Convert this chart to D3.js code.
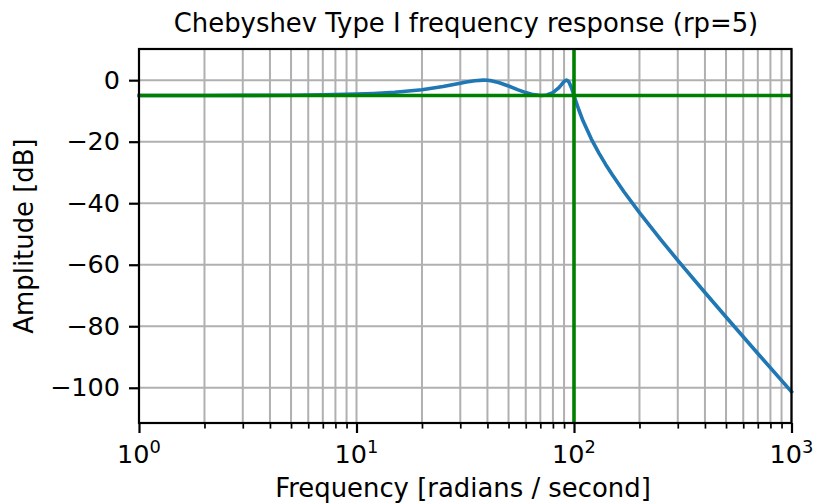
<!DOCTYPE html>
<html>
<head>
<meta charset="utf-8">
<script src="https://cdn.jsdelivr.net/npm/d3@7"></script>
<style>
  html, body { margin: 0; padding: 0; background: #fff; }
  svg { display: block; font-family: "DejaVu Sans", sans-serif; }
</style>
</head>
<body>
<svg id="chart" width="814" height="504"></svg>
<script>
// Frequency response of a 4th-order analog Chebyshev I low-pass (rp = 5 dB, wc = 100 rad/s)
const freq = [1, 2, 3, 5, 7, 10, 12, 15, 20, 25, 30, 32, 35, 38.3, 40, 42, 45, 50, 55, 60, 65, 70.7,
              75, 80, 85, 87, 89, 91, 92.4, 93.5, 95, 97, 98, 99, 100, 102, 105, 110, 120, 130,
              140, 150, 170, 200, 250, 300, 400, 500, 700, 1000];
const amplitudeDb = [-5.00, -4.98, -4.96, -4.88, -4.77, -4.52, -4.31, -3.92, -3.09, -2.07, -0.99, -0.61,
                     -0.18, 0.00, -0.05, -0.24, -0.74, -1.88, -3.06, -4.04, -4.71, -5.00,
                     -4.81, -4.04, -2.53, -1.71, -0.86, -0.18, 0.00, -0.14, -0.75, -2.22, -3.11, -4.05,
                     -5.00, -6.87, -9.46, -13.20, -19.07, -23.65, -27.47, -30.77, -36.36, -43.08,
                     -51.77, -58.57, -69.02, -76.98, -88.84, -101.32];
const xMajorTicks = [1, 10, 100, 1000];
const xTickExponents = ["0", "1", "2", "3"];
const yTicks = [0, -20, -40, -60, -80, -100];
const cutoffFreq = 100;
const rippleDb = -5;
const titleText = "Chebyshev Type I frequency response (rp=5)";
const xLabelText = "Frequency [radians / second]";
const yLabelText = "Amplitude [dB]";

const TICK_FONT = 25.5;
const LABEL_FONT = 25.9;
const svg = d3.select("#chart");
const plot = { left: 139, right: 791.5, top: 49, bottom: 423 };

const x = d3.scaleLog().domain([1, 1000]).range([plot.left, plot.right]);
const yMin = d3.min(amplitudeDb), yMax = d3.max(amplitudeDb);
const pad = (yMax - yMin) * 0.1;
const y = d3.scaleLinear().domain([yMin - pad, yMax + pad]).range([plot.bottom, plot.top]);

const minorTicks = [];
for (let d = 1; d < 1000; d *= 10) for (let k = 2; k <= 9; k++) minorTicks.push(d * k);

const gridColor = "#b0b0b0";
const grid = svg.append("g");
// vertical grid lines, major and minor
grid.selectAll("line.vx").data(xMajorTicks.concat(minorTicks)).join("line")
  .attr("x1", d => x(d)).attr("x2", d => x(d))
  .attr("y1", plot.top).attr("y2", plot.bottom)
  .attr("stroke", gridColor).attr("stroke-width", 2);
// horizontal grid lines
grid.selectAll("line.hy").data(yTicks).join("line")
  .attr("x1", plot.left).attr("x2", plot.right)
  .attr("y1", d => y(d)).attr("y2", d => y(d))
  .attr("stroke", gridColor).attr("stroke-width", 2);

// response curve
const line = d3.line().x((d, i) => x(freq[i])).y(d => y(d));
svg.append("path")
  .datum(amplitudeDb)
  .attr("d", line)
  .attr("fill", "none")
  .attr("stroke", "#1f77b4")
  .attr("stroke-width", 3.6)
  .attr("stroke-linejoin", "round")
  .attr("stroke-linecap", "square");

// cutoff and ripple reference lines
svg.append("line")
  .attr("x1", x(cutoffFreq)).attr("x2", x(cutoffFreq))
  .attr("y1", plot.top).attr("y2", plot.bottom)
  .attr("stroke", "green").attr("stroke-width", 3.6);
svg.append("line")
  .attr("x1", plot.left).attr("x2", plot.right)
  .attr("y1", y(rippleDb)).attr("y2", y(rippleDb))
  .attr("stroke", "green").attr("stroke-width", 3.6);

// axes frame
svg.append("rect")
  .attr("x", plot.left).attr("y", plot.top)
  .attr("width", plot.right - plot.left).attr("height", plot.bottom - plot.top)
  .attr("fill", "none").attr("stroke", "#000").attr("stroke-width", 2.2);

// x axis: major ticks with power-of-ten labels, unlabeled minor ticks
const xAxis = d3.axisBottom(x).tickValues(xMajorTicks).tickSize(10).tickFormat("");
const gx = svg.append("g").attr("transform", `translate(0,${plot.bottom})`).call(xAxis);
gx.select(".domain").remove();
gx.selectAll(".tick line").attr("stroke", "#000").attr("stroke-width", 2.2);
const xMinorAxis = d3.axisBottom(x).tickValues(minorTicks).tickSize(5.6).tickFormat("");
const gxm = svg.append("g").attr("transform", `translate(0,${plot.bottom})`).call(xMinorAxis);
gxm.select(".domain").remove();
gxm.selectAll(".tick line").attr("stroke", "#000").attr("stroke-width", 1.7);

const xLabels = svg.append("g");
xMajorTicks.forEach((v, i) => {
  const t = xLabels.append("text")
    .attr("x", x(v)).attr("y", 462.7)
    .attr("text-anchor", "middle")
    .attr("font-size", TICK_FONT).attr("fill", "#000");
  t.append("tspan").text("10");
  t.append("tspan").attr("dy", -10).attr("font-size", TICK_FONT * 0.7).text(xTickExponents[i]);
});

// y axis
const yAxis = d3.axisLeft(y).tickValues(yTicks).tickSize(10).tickPadding(9)
  .tickFormat(d => d < 0 ? "\u2212" + Math.abs(d) : String(d));
const gy = svg.append("g").attr("transform", `translate(${plot.left},0)`).call(yAxis);
gy.select(".domain").remove();
gy.selectAll(".tick line").attr("stroke", "#000").attr("stroke-width", 2.2);
gy.selectAll(".tick text").attr("font-size", TICK_FONT).attr("fill", "#000")
  .attr("font-family", "DejaVu Sans, sans-serif");

// labels and title
svg.append("text")
  .attr("x", 463).attr("y", 496.5)
  .attr("text-anchor", "middle").attr("font-size", LABEL_FONT).text(xLabelText);
svg.append("text")
  .attr("transform", `translate(33,${(plot.top + plot.bottom) / 2}) rotate(-90)`)
  .attr("text-anchor", "middle").attr("font-size", LABEL_FONT).text(yLabelText);
svg.append("text")
  .attr("x", 466).attr("y", 32)
  .attr("text-anchor", "middle").attr("font-size", LABEL_FONT).text(titleText);
</script>
</body>
</html>
